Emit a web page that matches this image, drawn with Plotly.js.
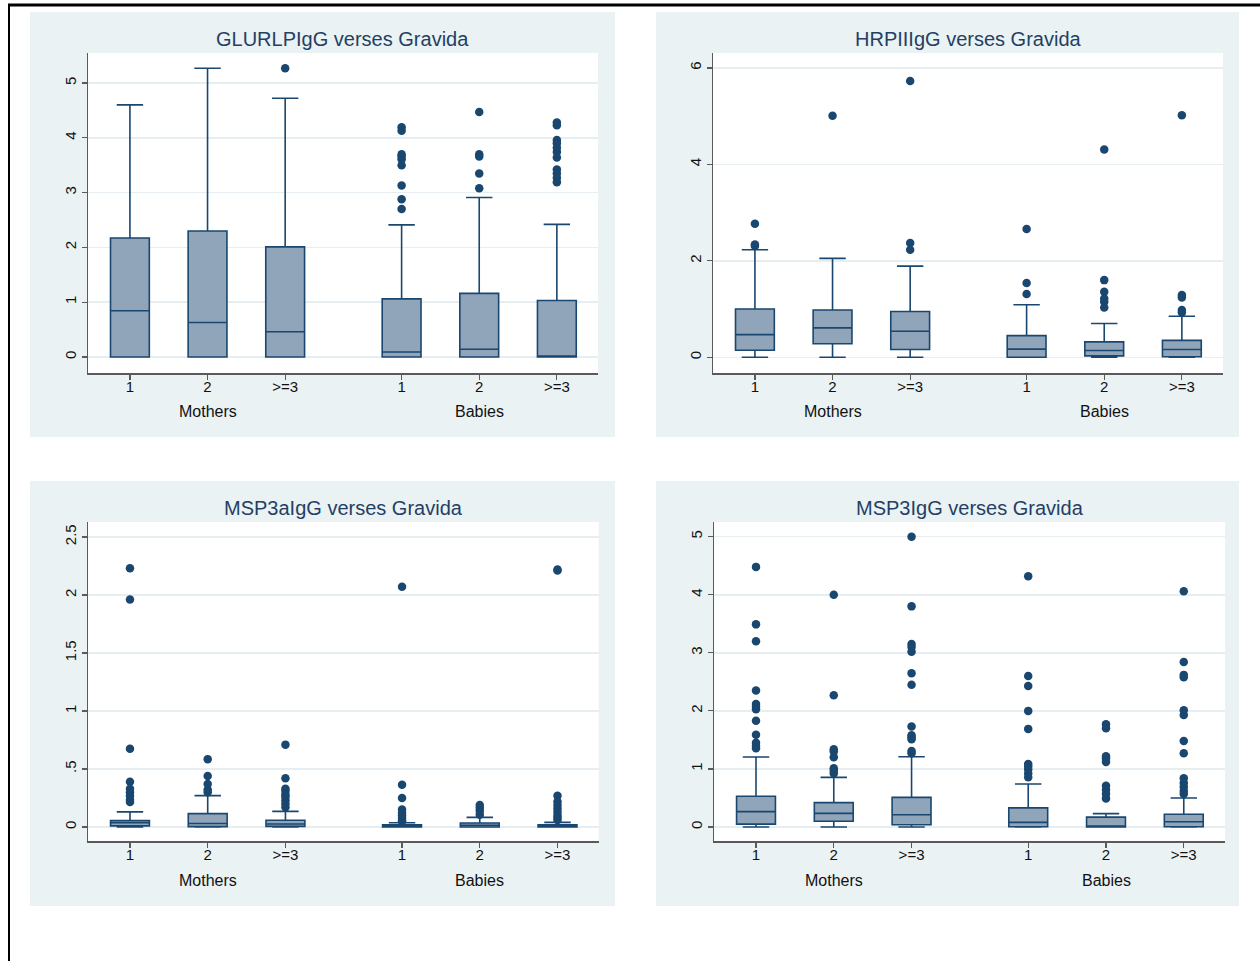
<!DOCTYPE html>
<html>
<head>
<meta charset="utf-8">
<script src="https://cdn.plot.ly/plotly-3.0.1.min.js"></script>
<style>html,body{margin:0;padding:0;background:#fff;}#chart{width:1260px;height:961px;}</style>
</head>
<body>
<div id="chart"></div>
<script>
// ---------- data ----------
const groupNames = ['Mothers', 'Babies'];
const tickLabels = ['1', '2', '>=3', '1', '2', '>=3'];
const titles = ['GLURLPIgG verses Gravida', 'HRPIIIgG verses Gravida', 'MSP3aIgG verses Gravida', 'MSP3IgG verses Gravida'];

// GLURLPIgG
const gluLo  = [0, 0, 0, 0, 0, 0];
const gluQ1  = [0, 0, 0, 0, 0, 0];
const gluMed = [0.845, 0.63, 0.46, 0.09, 0.14, 0.01];
const gluQ3  = [2.17, 2.30, 2.01, 1.06, 1.16, 1.03];
const gluHi  = [4.60, 5.27, 4.72, 2.41, 2.91, 2.42];
const gluOut = [
  [],
  [],
  [5.27],
  [4.19, 4.13, 3.70, 3.66, 3.61, 3.50, 3.13, 2.88, 2.70],
  [4.47, 3.70, 3.66, 3.35, 3.08],
  [4.28, 4.23, 3.96, 3.90, 3.82, 3.74, 3.64, 3.42, 3.35, 3.27, 3.19]
];

// HRPIIIgG
const hrpLo  = [0, 0, 0, 0, 0, 0];
const hrpQ1  = [0.145, 0.28, 0.16, 0.0, 0.03, 0.01];
const hrpMed = [0.47, 0.61, 0.54, 0.17, 0.14, 0.16];
const hrpQ3  = [1.00, 0.98, 0.95, 0.45, 0.32, 0.35];
const hrpHi  = [2.23, 2.05, 1.89, 1.09, 0.70, 0.85];
const hrpOut = [
  [2.77, 2.34, 2.31],
  [5.01],
  [5.73, 2.37, 2.23],
  [2.66, 1.54, 1.31],
  [4.31, 1.60, 1.36, 1.22, 1.15, 1.03],
  [5.02, 1.29, 1.24, 0.98, 0.93]
];

// MSP3aIgG
const msaLo  = [0, 0, 0, 0, 0, 0];
const msaQ1  = [0.01, 0.003, 0.005, 0, 0, 0];
const msaMed = [0.037, 0.03, 0.026, 0.01, 0.015, 0.008];
const msaQ3  = [0.055, 0.115, 0.058, 0.02, 0.035, 0.02];
const msaHi  = [0.13, 0.27, 0.135, 0.037, 0.083, 0.04];
const msaOut = [
  [2.23, 1.96, 0.675, 0.39, 0.33, 0.30, 0.27, 0.235, 0.215],
  [0.585, 0.44, 0.37, 0.32, 0.30],
  [0.71, 0.42, 0.33, 0.31, 0.28, 0.26, 0.23, 0.20, 0.17],
  [2.07, 0.365, 0.25, 0.15, 0.12, 0.10, 0.08, 0.06, 0.05],
  [0.19, 0.165, 0.14, 0.105],
  [2.22, 2.21, 0.27, 0.22, 0.19, 0.16, 0.13, 0.10, 0.08, 0.06]
];

// MSP3IgG
const mspLo  = [0, 0, 0, 0, 0, 0];
const mspQ1  = [0.05, 0.10, 0.04, 0.005, 0, 0.005];
const mspMed = [0.265, 0.235, 0.21, 0.08, 0.01, 0.09];
const mspQ3  = [0.53, 0.42, 0.51, 0.33, 0.17, 0.22];
const mspHi  = [1.205, 0.855, 1.21, 0.74, 0.23, 0.50];
const mspOut = [
  [4.48, 3.49, 3.20, 2.35, 2.12, 2.07, 2.03, 1.83, 1.59, 1.45, 1.40, 1.355],
  [4.0, 2.27, 1.34, 1.30, 1.20, 1.01, 0.97, 0.92],
  [5.0, 3.80, 3.15, 3.10, 3.02, 2.65, 2.45, 1.73, 1.58, 1.545, 1.51, 1.31, 1.27],
  [4.32, 2.60, 2.43, 2.00, 1.69, 1.085, 1.04, 0.99, 0.92, 0.855],
  [1.77, 1.70, 1.22, 1.18, 1.12, 0.71, 0.64, 0.57, 0.49],
  [4.06, 2.84, 2.62, 2.58, 2.01, 1.93, 1.48, 1.27, 0.84, 0.76, 0.69, 0.625, 0.57]
];

const panels = [
  {lo: gluLo, q1: gluQ1, med: gluMed, q3: gluQ3, hi: gluHi, out: gluOut,
   yrange: [-0.292, 5.547], tickvals: [0,1,2,3,4,5], ticktext: ['0','1','2','3','4','5']},
  {lo: hrpLo, q1: hrpQ1, med: hrpMed, q3: hrpQ3, hi: hrpHi, out: hrpOut,
   yrange: [-0.326, 6.31], tickvals: [0,2,4,6], ticktext: ['0','2','4','6']},
  {lo: msaLo, q1: msaQ1, med: msaMed, q3: msaQ3, hi: msaHi, out: msaOut,
   yrange: [-0.1207, 2.629], tickvals: [0,0.5,1,1.5,2,2.5], ticktext: ['0','.5','1','1.5','2','2.5']},
  {lo: mspLo, q1: mspQ1, med: mspMed, q3: mspQ3, hi: mspHi, out: mspOut,
   yrange: [-0.241, 5.253], tickvals: [0,1,2,3,4,5], ticktext: ['0','1','2','3','4','5']}
];

// ---------- layout geometry (pixels) ----------
const W = 1260, H = 961;
const px = v => v / W;
const py = v => 1 - v / H;
const plotBoxes = [
  {x0: 88, x1: 598, y0: 53, y1: 373},
  {x0: 713, x1: 1223, y0: 53, y1: 373},
  {x0: 88, x1: 598.7, y0: 522, y1: 841},
  {x0: 714, x1: 1225, y0: 522, y1: 841}
];
const panelBoxes = [
  {x0: 30, x1: 615, y0: 12, y1: 437},
  {x0: 656, x1: 1239, y0: 12, y1: 437},
  {x0: 30, x1: 615, y0: 481, y1: 906},
  {x0: 656, x1: 1239, y0: 481, y1: 906}
];
const groupLabelY = [411, 411, 880, 880];
const titleY = [39, 39, 508, 508];

const xpos = tickLabels.map((_, i) => i < 3 ? i : i + 0.5);

const navy = '#1a476f';
const fillC = '#90a5ba';
const bgC = '#eaf2f3';
const font = '"Liberation Sans", Arial, sans-serif';

const traces = [];
const layout = {
  width: W, height: H,
  margin: {l: 0, r: 0, t: 0, b: 0},
  paper_bgcolor: '#ffffff',
  plot_bgcolor: 'rgba(0,0,0,0)',
  showlegend: false,
  font: {family: font, color: '#111111', size: 15},
  shapes: [],
  annotations: []
};

panels.forEach((p, k) => {
  const n = k === 0 ? '' : String(k + 1);
  const xa = 'x' + n, ya = 'y' + n;
  traces.push({
    type: 'box', xaxis: xa, yaxis: ya,
    x: xpos, q1: p.q1, median: p.med, q3: p.q3, lowerfence: p.lo, upperfence: p.hi,
    width: 0.5, whiskerwidth: 0.68, boxpoints: false,
    fillcolor: fillC, line: {color: navy, width: 1.6},
    hoverinfo: 'skip'
  });
  const ox = [], oy = [];
  p.out.forEach((arr, i) => arr.forEach(v => { ox.push(xpos[i]); oy.push(v); }));
  traces.push({
    type: 'scatter', mode: 'markers', xaxis: xa, yaxis: ya,
    x: ox, y: oy, marker: {color: navy, size: 8.5, line: {width: 0}},
    hoverinfo: 'skip'
  });
  const b = plotBoxes[k];
  layout['xaxis' + n] = {
    domain: [px(b.x0), px(b.x1)], anchor: ya,
    range: [-0.54, 6.03], showgrid: false, zeroline: false,
    showline: true, linecolor: '#5a5a5a', linewidth: 1.5,
    ticks: 'outside', ticklen: 5, tickcolor: '#5a5a5a', tickwidth: 1.2,
    ticklabelstandoff: -6,
    tickvals: xpos, ticktext: tickLabels,
    tickfont: {family: font, size: 15, color: '#111111'}
  };
  layout['yaxis' + n] = {
    domain: [py(b.y1), py(b.y0)], anchor: xa,
    range: p.yrange, showgrid: true, gridcolor: '#e6eef1', gridwidth: 1.5,
    zeroline: false, showline: true, linecolor: '#5a5a5a', linewidth: 1.5,
    ticks: 'outside', ticklen: 5, tickcolor: '#5a5a5a', tickwidth: 1.2,
    tickvals: p.tickvals, ticktext: p.ticktext, tickangle: -90,
    tickfont: {family: font, size: 15, color: '#111111'}
  };
  const pb = panelBoxes[k];
  layout.shapes.push({type: 'rect', xref: 'paper', yref: 'paper', layer: 'below',
    x0: px(pb.x0), x1: px(pb.x1), y0: py(pb.y1), y1: py(pb.y0),
    fillcolor: bgC, line: {width: 0}});
  layout.shapes.push({type: 'rect', xref: 'paper', yref: 'paper', layer: 'below',
    x0: px(b.x0), x1: px(b.x1), y0: py(b.y1), y1: py(b.y0),
    fillcolor: '#ffffff', line: {width: 0}});
  layout.annotations.push({
    xref: 'paper', yref: 'paper', x: px((b.x0 + b.x1) / 2), y: py(titleY[k]),
    xanchor: 'center', yanchor: 'middle', showarrow: false,
    text: titles[k], font: {family: font, size: 20, color: '#243f63'}
  });
  groupNames.forEach((g, gi) => {
    layout.annotations.push({
      xref: xa, yref: 'paper', x: gi === 0 ? xpos[1] : xpos[4], y: py(groupLabelY[k]),
      xanchor: 'center', yanchor: 'middle', showarrow: false,
      text: g, font: {family: font, size: 16, color: '#111111'}
    });
  });
});

// outer frame lines
layout.shapes.push({type: 'line', xref: 'paper', yref: 'paper', x0: px(8), x1: 1, y0: py(5), y1: py(5),
  line: {color: '#000000', width: 3}});
layout.shapes.push({type: 'line', xref: 'paper', yref: 'paper', x0: px(9), x1: px(9), y0: py(4), y1: 0,
  line: {color: '#000000', width: 2}});

Plotly.newPlot('chart', traces, layout, {displayModeBar: false, staticPlot: true});
</script>
</body>
</html>
